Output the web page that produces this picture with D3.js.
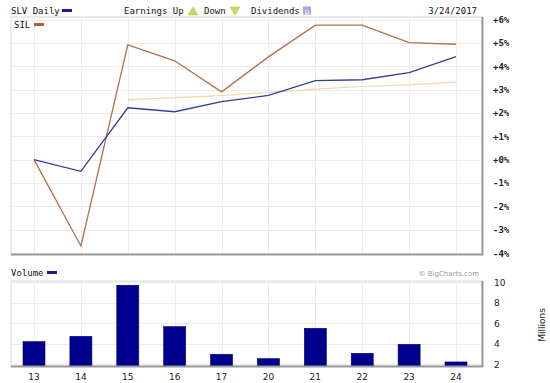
<!DOCTYPE html>
<html><head><meta charset="utf-8">
<script src="https://cdn.jsdelivr.net/npm/d3@7"></script>
<style>body{margin:0;background:#fff}svg{display:block}</style>
</head><body>
<svg id="c" width="550" height="383"></svg>
<script>
const days = ["13","14","15","16","17","20","21","22","23","24"];
const slv = [0, -0.5, 2.22, 2.05, 2.48, 2.75, 3.38, 3.42, 3.72, 4.41];
const sil = [0, -3.7, 4.91, 4.23, 2.9, 4.4, 5.76, 5.76, 5.01, 4.94];
const avg = [null, null, 2.56, 2.65, 2.74, 2.88, 3.02, 3.13, 3.2, 3.32];
const volume = [4.18, 4.7, 9.68, 5.64, 2.95, 2.52, 5.48, 3.04, 3.92, 2.2];
const pctTicks = [6,5,4,3,2,1,0,-1,-2,-3,-4];
const volTicks = [10,8,6,4,2];

const svg = d3.select("#c");
const mono = "'DejaVu Sans Mono', monospace";
const sans = "'DejaVu Sans', Verdana, sans-serif";

const L = 11, R = 482, T = 17, B = 254;
const VT = 281, VB = 366;

const x = d3.scalePoint().domain(days).range([34, 456]);
const y = d3.scaleLinear().domain([-4, 6]).range([253, 19.5]);
const yv = d3.scaleLinear().domain([2, 10]).range([364, 282]);

// main panel
svg.append("rect").attr("x", L).attr("y", T).attr("width", R - L).attr("height", B - T)
  .attr("fill", "#fff").attr("stroke", "#d8d8d8");
const g = svg.append("g");
g.selectAll(".hg").data(pctTicks).join("line")
  .attr("x1", L).attr("x2", R).attr("y1", d => Math.round(y(d)) + 0.5).attr("y2", d => Math.round(y(d)) + 0.5)
  .attr("stroke", "#ececec");
g.selectAll(".vg").data(days).join("line")
  .attr("x1", d => Math.round(x(d)) + 0.5).attr("x2", d => Math.round(x(d)) + 0.5).attr("y1", T).attr("y2", B)
  .attr("stroke", "#ececec");
// shadow borders
svg.append("line").attr("x1", L).attr("x2", R + 1).attr("y1", B + 0.5).attr("y2", B + 0.5).attr("stroke", "#999").attr("stroke-width", 2);
svg.append("line").attr("x1", R + 0.5).attr("x2", R + 0.5).attr("y1", T).attr("y2", B + 1).attr("stroke", "#999").attr("stroke-width", 2);

const line = d3.line().defined(d => d != null).x((d, i) => x(days[i])).y(d => y(d));
svg.append("path").datum(avg).attr("d", line).attr("fill", "none").attr("stroke", "#f6d6b0").attr("stroke-width", 1.2);
svg.append("path").datum(sil).attr("d", line).attr("fill", "none").attr("stroke", "#b0714a").attr("stroke-width", 1.3);
svg.append("path").datum(slv).attr("d", line).attr("fill", "none").attr("stroke", "#3a3a9a").attr("stroke-width", 1.3);

// right axis labels
svg.selectAll(".pl").data(pctTicks).join("text")
  .attr("x", 493).attr("y", d => y(d) + 3.5)
  .attr("font-family", mono).attr("font-size", 9).attr("font-weight", "bold").attr("fill", "#222")
  .text(d => (d >= 0 ? "+" : "-") + Math.abs(d) + "%");

// header
svg.append("text").attr("x", 11).attr("y", 14).attr("font-family", mono).attr("font-size", 9).attr("fill", "#111").text("SLV Daily");
svg.append("rect").attr("x", 62).attr("y", 9).attr("width", 10).attr("height", 3).attr("fill", "#1a1aa0");
svg.append("text").attr("x", 124).attr("y", 14).attr("font-family", mono).attr("font-size", 9).attr("fill", "#111").text("Earnings Up");
svg.append("path").attr("d", "M188,15 L193,7 L198,15 Z").attr("fill", "#c8d860").attr("stroke", "#b0c040").attr("stroke-width", 0.5);
svg.append("text").attr("x", 204).attr("y", 14).attr("font-family", mono).attr("font-size", 9).attr("fill", "#111").text("Down");
svg.append("path").attr("d", "M230,7 L240,7 L235,15 Z").attr("fill", "#c8d860").attr("stroke", "#b0c040").attr("stroke-width", 0.5);
svg.append("text").attr("x", 251).attr("y", 14).attr("font-family", mono).attr("font-size", 9).attr("fill", "#111").text("Dividends");
svg.append("rect").attr("x", 303).attr("y", 6.5).attr("width", 8).attr("height", 8).attr("fill", "#a8a8d8");
svg.append("text").attr("x", 307).attr("y", 13.5).attr("text-anchor", "middle").attr("font-family", sans).attr("font-size", 6).attr("fill", "#fff").text("D");
svg.append("text").attr("x", 477).attr("y", 14).attr("text-anchor", "end").attr("font-family", mono).attr("font-size", 9).attr("fill", "#111").text("3/24/2017");
svg.append("text").attr("x", 14).attr("y", 28).attr("font-family", mono).attr("font-size", 9).attr("fill", "#111").text("SIL");
svg.append("rect").attr("x", 34).attr("y", 23).attr("width", 10).attr("height", 3).attr("fill", "#b0602a");

// volume panel
svg.append("rect").attr("x", L).attr("y", VT).attr("width", R - L).attr("height", VB - VT)
  .attr("fill", "#fff").attr("stroke", "#d8d8d8");
svg.selectAll(".vhg").data(volTicks).join("line")
  .attr("x1", L).attr("x2", R).attr("y1", d => Math.round(yv(d)) + 0.5).attr("y2", d => Math.round(yv(d)) + 0.5)
  .attr("stroke", "#ececec");
svg.selectAll(".vvg").data(days).join("line")
  .attr("x1", d => Math.round(x(d)) + 0.5).attr("x2", d => Math.round(x(d)) + 0.5).attr("y1", VT).attr("y2", VB)
  .attr("stroke", "#ececec");
svg.selectAll(".bar").data(volume).join("rect")
  .attr("x", (d, i) => x(days[i]) - 11).attr("width", 22)
  .attr("y", d => yv(d)).attr("height", d => VB - yv(d))
  .attr("fill", "#00008f").attr("stroke", "#000070").attr("stroke-width", 0.6);
svg.append("line").attr("x1", L).attr("x2", R + 1).attr("y1", VB + 0.5).attr("y2", VB + 0.5).attr("stroke", "#999").attr("stroke-width", 2);
svg.append("line").attr("x1", R + 0.5).attr("x2", R + 0.5).attr("y1", VT).attr("y2", VB + 1).attr("stroke", "#999").attr("stroke-width", 2);

svg.selectAll(".vl").data(volTicks).join("text")
  .attr("x", 494).attr("y", d => yv(d) + 3.5)
  .attr("font-family", sans).attr("font-size", 9).attr("fill", "#222")
  .text(d => d);
svg.append("text").attr("transform", "translate(545,325) rotate(-90)").attr("text-anchor", "middle")
  .attr("font-family", sans).attr("font-size", 9).attr("fill", "#222").text("Millions");
svg.append("text").attr("x", 11).attr("y", 276).attr("font-family", mono).attr("font-size", 9).attr("fill", "#111").text("Volume");
svg.append("rect").attr("x", 47).attr("y", 271).attr("width", 10).attr("height", 3).attr("fill", "#1a1aa0");
svg.append("text").attr("x", 479).attr("y", 276).attr("text-anchor", "end")
  .attr("font-family", sans).attr("font-size", 7).attr("fill", "#999").text("© BigCharts.com");

// x labels
svg.selectAll(".xl").data(days).join("text")
  .attr("x", d => x(d)).attr("y", 380).attr("text-anchor", "middle")
  .attr("font-family", sans).attr("font-size", 9).attr("fill", "#222").text(d => d);
</script>
</body></html>
